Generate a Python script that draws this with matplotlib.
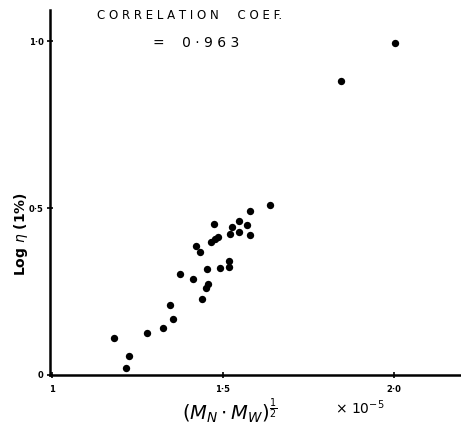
import matplotlib
matplotlib.use("Agg")
from matplotlib import pyplot as plt

# (Mn.Mw)^1/2 x 10^-5 against log viscosity
mw_root = [
    1.637, 1.579, 1.474, 1.547, 1.570, 1.526, 1.520, 1.547, 1.579, 1.485,
    1.477, 1.465, 1.421, 1.433, 1.518, 1.518, 1.491, 1.453, 1.374, 1.412,
    1.456, 1.450, 1.439, 1.345, 1.354, 1.325, 1.278, 1.181, 1.225, 1.216,
    2.003, 1.845,
]
log_visc = [
    0.509, 0.491, 0.452, 0.461, 0.449, 0.443, 0.423, 0.429, 0.420, 0.414,
    0.408, 0.399, 0.387, 0.369, 0.342, 0.324, 0.321, 0.318, 0.304, 0.289,
    0.274, 0.262, 0.229, 0.211, 0.167, 0.140, 0.125, 0.110, 0.057, 0.021,
    0.994, 0.881,
]
x_ticks = [1.0, 1.5, 2.0]
x_tick_labels = ["1", "1·5", "2·0"]
y_ticks = [0.0, 0.5, 1.0]
y_tick_labels = ["0", "0·5", "1·0"]

fig = plt.figure(figsize=(4.61, 4.26), dpi=100)
ax = fig.add_axes([0.108, 0.120, 0.892, 0.857])

ax.scatter(mw_root, log_visc, s=28, color="black", marker="o", linewidths=0)

ax.set_xlim(0.994, 2.196)
ax.set_ylim(0.009, 1.095)

for side in ("top", "right"):
    ax.spines[side].set_visible(False)
for side in ("left", "bottom"):
    ax.spines[side].set_linewidth(1.8)

ax.set_xticks(x_ticks)
ax.set_xticklabels(x_tick_labels, fontsize=6, fontweight="bold")
ax.set_yticks(y_ticks)
ax.set_yticklabels(y_tick_labels, fontsize=6, fontweight="bold")
ax.tick_params(direction="inout", length=5, width=1.2, pad=2)
ax.tick_params(axis="x", pad=5)

# axis titles placed by hand, the original lettering sits close to the frame
fig.text(0.499, 0.034, r"$(M_N \cdot M_W)^{\frac{1}{2}}$", fontsize=14,
         ha="center", va="center")
fig.text(0.727, 0.042, r"$\times\ 10^{-5}$", fontsize=10, ha="left", va="center")
fig.text(0.045, 0.45, r"Log $\eta$ (1%)", fontsize=10, fontweight="bold",
         rotation=90, ha="center", va="center")

ax.text(0.114, 0.985, "C O R R E L A T I O N     C O E F.", transform=ax.transAxes,
        fontsize=8.5, ha="left", va="center")
ax.text(0.25, 0.91, "=    0 · 9 6 3", transform=ax.transAxes,
        fontsize=10, ha="left", va="center")

fig.savefig("out.png", dpi=100)
